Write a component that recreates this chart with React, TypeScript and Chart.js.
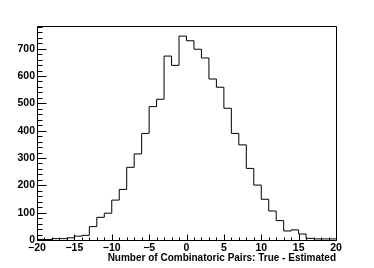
import React, { useEffect, useRef } from "react";
import { Chart, registerables } from "chart.js";

Chart.register(...registerables);

// Histogram: Number of Combinatoric Pairs: True - Estimated
const binLowEdges = [
  -20, -19, -18, -17, -16, -15, -14, -13, -12, -11,
  -10, -9, -8, -7, -6, -5, -4, -3, -2, -1,
  0, 1, 2, 3, 4, 5, 6, 7, 8, 9,
  10, 11, 12, 13, 14, 15, 16, 17, 18, 19,
];
const lastBinUpperEdge = 20;
const counts = [
  2, 2, 5, 5, 8, 14, 17, 49, 83, 98,
  146, 185, 266, 315, 390, 488, 515, 673, 639, 746,
  729, 698, 666, 589, 559, 482, 390, 348, 262, 201,
  149, 106, 71, 33, 37, 22, 6, 4, 4, 4,
];
const xMin = -20;
const xMax = 20;
const yMin = 0;
const yMax = 783;
const xMajorStep = 5;
const xMinorStep = 1;
const yMajorStep = 100;
const yMinorStep = 20;
const xTitle = "Number of Combinatoric Pairs: True - Estimated";

const FONT = "'Liberation Sans', Arial, Helvetica, sans-serif";

const frameTicksPlugin = {
  id: "frameTicks",
  afterDatasetsDraw(chart: any) {
    const { ctx, chartArea: a, scales } = chart;
    const xs = scales.x;
    const ys = scales.y;
    const L = Math.round(a.left) + 0.5;
    const R = Math.round(a.right) + 0.5;
    const T = Math.round(a.top) + 0.5;
    const B = Math.round(a.bottom) + 0.5;
    ctx.save();
    ctx.strokeStyle = "#000";
    ctx.lineWidth = 1;
    ctx.beginPath();
    ctx.moveTo(L, T);
    ctx.lineTo(R, T);
    ctx.lineTo(R, B);
    ctx.lineTo(L, B);
    ctx.closePath();
    for (let v = xMin; v <= xMax + 1e-9; v += xMinorStep) {
      const px = Math.round(xs.getPixelForValue(v)) + 0.5;
      const len = Math.abs(v % xMajorStep) < 1e-9 ? 6 : 3;
      ctx.moveTo(px, B);
      ctx.lineTo(px, B - len);
    }
    for (let v = yMin; v <= yMax + 1e-9; v += yMinorStep) {
      const py = Math.round(ys.getPixelForValue(v)) + 0.5;
      const len = Math.abs(v % yMajorStep) < 1e-9 ? 9 : 5;
      ctx.moveTo(L, py);
      ctx.lineTo(L + len, py);
    }
    ctx.stroke();
    ctx.restore();
  },
};

export default function App() {
  const ref = useRef<HTMLCanvasElement | null>(null);

  useEffect(() => {
    if (!ref.current) return;
    const points = binLowEdges
      .map((x, i) => ({ x, y: counts[i] }))
      .concat([{ x: lastBinUpperEdge, y: counts[counts.length - 1] }]);

    const chart = new Chart(ref.current, {
      type: "line",
      data: {
        datasets: [
          {
            data: points,
            stepped: true,
            borderColor: "#000",
            borderWidth: 1,
            pointRadius: 0,
            fill: false,
            tension: 0,
          },
        ],
      },
      options: {
        animation: false,
        responsive: false,
        devicePixelRatio: 1,
        layout: { padding: { top: 26, right: 38, left: 0, bottom: 0 } },
        plugins: {
          legend: { display: false },
          tooltip: { enabled: false },
          title: { display: false },
        },
        scales: {
          x: {
            type: "linear",
            min: xMin,
            max: xMax,
            grid: { display: false, drawTicks: false },
            border: { display: false },
            ticks: {
              stepSize: xMajorStep,
              includeBounds: false,
              maxRotation: 0,
              autoSkip: false,
              padding: 2,
              color: "#000",
              font: { family: FONT, size: 10.5, weight: "bold" },
              callback: (v: any) => String(v).replace("-", "\u2212"),
            },
            title: {
              display: true,
              text: xTitle,
              align: "end",
              color: "#000",
              font: { family: FONT, size: 10, weight: "bold", lineHeight: 1.2 },
              padding: { top: 0, bottom: 4 },
            },
            afterFit: (s: any) => {
              s.height = 28;
            },
          },
          y: {
            type: "linear",
            min: yMin,
            max: yMax,
            grid: { display: false, drawTicks: false },
            border: { display: false },
            ticks: {
              stepSize: yMajorStep,
              includeBounds: false,
              padding: 2,
              color: "#000",
              font: { family: FONT, size: 10.5, weight: "bold" },
            },
            afterFit: (s: any) => {
              s.width = 37;
            },
          },
        },
      },
      plugins: [frameTicksPlugin],
    } as any);
    return () => chart.destroy();
  }, []);

  return (
    <div style={{ position: "fixed", left: 0, top: 0, width: 374, height: 268, background: "#fff" }}>
      <canvas ref={ref} width={374} height={268} style={{ width: 374, height: 268 }} />
    </div>
  );
}
